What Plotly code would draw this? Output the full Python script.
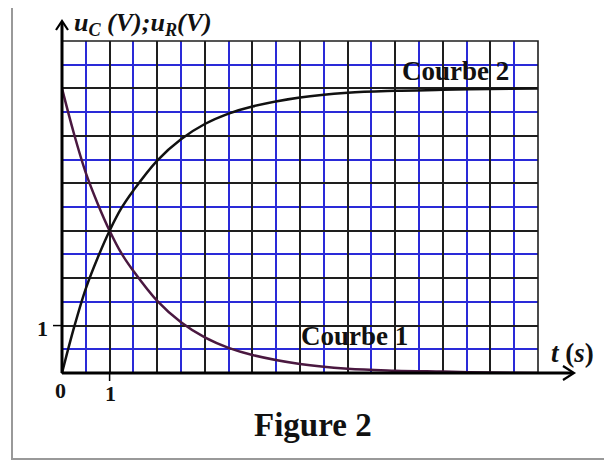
import plotly.graph_objects as go

# values (t in s, voltages in V)
t_vals = [0, 0.25, 0.5, 0.75, 1, 1.25, 1.5, 2, 2.5, 3, 3.5, 4, 5, 6, 7, 8, 9, 10]
u_r = [6, 5.05, 4.22, 3.57, 3.0, 2.52, 2.15, 1.52, 1.07, 0.75, 0.53, 0.38, 0.19, 0.09, 0.05, 0.03, 0.01, 0]
u_c = [0, 0.95, 1.78, 2.43, 3.0, 3.48, 3.85, 4.48, 4.93, 5.25, 5.47, 5.62, 5.81, 5.91, 5.95, 5.97, 5.99, 6]

x_range = [0, 10]
y_range = [0, 7]

OFF = 8  # page body margin of the html page
W, H = 612 - OFF, 461 - OFF
L, R, T, B = 62 - OFF, 74, 41 - OFF, 88   # plot area margins in px
pw, ph = W - L - R, H - T - B

def px(xp):  # screen pixel x -> paper
    return (xp - OFF - L) / pw

def py(yp):  # screen pixel y -> paper
    return (H + OFF - B - yp) / ph

serif = "Liberation Serif"
grid_dark = "#1e1e1e"
grid_blue = "#2a2ad8"

fig = go.Figure()

fig.add_trace(go.Scatter(x=t_vals, y=u_r, mode="lines", line=dict(color="#4a1840", width=2.5, shape="spline"),
                         name="Courbe 1", showlegend=False, hoverinfo="skip"))
fig.add_trace(go.Scatter(x=t_vals, y=u_c, mode="lines", line=dict(color="#111111", width=2.5, shape="spline"),
                         name="Courbe 2", showlegend=False, hoverinfo="skip"))

axis_common = dict(showticklabels=False, ticks="", zeroline=False, showline=False, fixedrange=True,
                   showgrid=True, gridcolor=grid_dark, gridwidth=1.6, dtick=1, tick0=0)
fig.update_xaxes(range=x_range, minor=dict(dtick=0.5, tick0=0, showgrid=True, gridcolor=grid_blue, gridwidth=1.5),
                 **axis_common)
fig.update_yaxes(range=y_range, minor=dict(dtick=0.5, tick0=0, showgrid=True, gridcolor=grid_blue, gridwidth=1.5),
                 **axis_common)

shapes = []
# outer frame of the figure
shapes.append(dict(type="rect", xref="paper", yref="paper", x0=px(12), x1=px(616), y0=py(459), y1=py(1),
                   line=dict(color="#999999", width=2), layer="below"))
# grid border (top / right)
shapes.append(dict(type="rect", xref="paper", yref="paper", x0=0, x1=1, y0=0, y1=1,
                   line=dict(color=grid_dark, width=1.6)))
# axes with arrows
shapes.append(dict(type="line", xref="paper", yref="paper", x0=0, x1=0, y0=0, y1=py(22),
                   line=dict(color="black", width=3)))
shapes.append(dict(type="line", xref="paper", yref="paper", x0=0, x1=px(573), y0=0, y1=0,
                   line=dict(color="black", width=3)))
shapes.append(dict(type="path", xref="paper", yref="paper",
                   path=f"M {px(56)} {py(30)} L {px(62)} {py(21)} L {px(68)} {py(30)}",
                   line=dict(color="black", width=2.2)))
shapes.append(dict(type="path", xref="paper", yref="paper",
                   path=f"M {px(563)} {py(366)} L {px(574)} {py(373)} L {px(563)} {py(380)}",
                   line=dict(color="black", width=2.2)))
# small ticks for the unit marks
shapes.append(dict(type="line", xref="paper", yref="paper", x0=1 / x_range[1], x1=1 / x_range[1],
                   y0=0, y1=py(381), line=dict(color="black", width=1.5)))
shapes.append(dict(type="line", xref="paper", yref="paper", x0=px(53), x1=0,
                   y0=1 / y_range[1], y1=1 / y_range[1], line=dict(color="black", width=1.5)))

annotations = [
    dict(text="<b><i>u<sub>C</sub> (V);u<sub>R</sub>(V)</i></b>", x=px(72), y=py(24), xanchor="left",
         font=dict(family=serif, size=26, color="#111")),
    dict(text="<b><i>t</i> (<i>s</i>)</b>", x=px(572), y=py(353), font=dict(family=serif, size=27, color="#111")),
    dict(text="<b>Courbe 2</b>", x=px(455), y=py(71), font=dict(family=serif, size=27, color="#111")),
    dict(text="<b>Courbe 1</b>", x=px(354), y=py(336), font=dict(family=serif, size=27, color="#111")),
    dict(text="<b>Figure 2</b>", x=px(313), y=py(425), font=dict(family=serif, size=33, color="#111")),
    dict(text="<b>0</b>", x=px(60), y=py(390), font=dict(family=serif, size=22, color="#111")),
    dict(text="<b>1</b>", x=px(110), y=py(394), font=dict(family=serif, size=22, color="#111")),
    dict(text="<b>1</b>", x=px(42), y=py(328), font=dict(family=serif, size=22, color="#111")),
]
for a in annotations:
    a.update(xref="paper", yref="paper", showarrow=False, yanchor="middle")
    a.setdefault("xanchor", "center")

fig.update_layout(
    width=W, height=H,
    margin=dict(l=L, r=R, t=T, b=B),
    paper_bgcolor="white", plot_bgcolor="white",
    shapes=shapes, annotations=annotations,
    showlegend=False,
)

fig.write_html("out.html", config={"displayModeBar": False})
